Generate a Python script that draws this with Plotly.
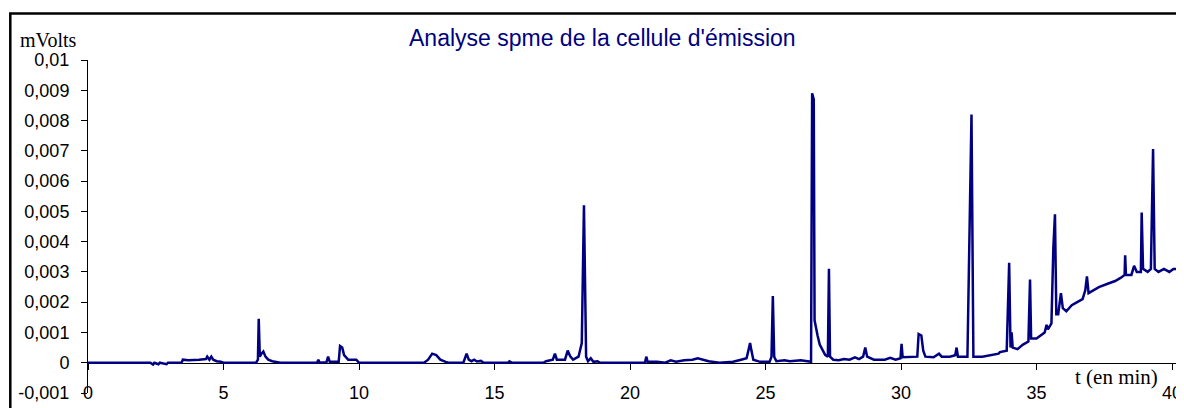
import plotly.graph_objects as go

# ---- data ----
t_min = [0, 2.3, 2.4, 2.45, 2.6, 2.65, 2.9, 2.95, 3.45, 3.5, 3.7, 3.9, 4.1, 4.35, 4.4, 4.48, 4.55, 4.62, 4.75, 4.9, 5.0,
         6.2, 6.27, 6.3, 6.34, 6.4, 6.47, 6.55, 6.65, 6.8, 7.0, 7.1,
         8.45, 8.5, 8.55, 8.8, 8.86, 8.92, 9.25, 9.3, 9.38, 9.45, 9.6, 9.9, 10.0,
         12.4, 12.55, 12.7, 12.85, 13.0, 13.2, 13.3, 13.85, 13.92, 13.97, 14.05, 14.15, 14.25, 14.35, 14.5, 14.6,
         15.5, 15.55, 15.65, 16.8, 16.9, 17.15, 17.23, 17.3, 17.6, 17.7, 17.8, 17.9, 18.1, 18.22, 18.3, 18.38,
         18.45, 18.55, 18.65, 18.8, 18.9, 20.55, 20.6, 20.65, 21.0, 21.3, 21.5, 21.7, 22.0, 22.3, 22.5, 22.7,
         22.9, 23.3, 23.8, 24.1, 24.3, 24.38, 24.43, 24.48, 24.55, 24.8, 25.15, 25.22, 25.27, 25.32, 25.4,
         25.7, 25.9, 26.3, 26.6, 26.68, 26.72, 26.78, 26.81, 26.85, 26.92, 27.0, 27.1, 27.2, 27.3, 27.34,
         27.38, 27.5, 27.7, 27.8, 27.9, 28.1, 28.3, 28.45, 28.6, 28.68, 28.75, 29.0, 29.4, 29.6, 29.8, 29.98,
         30.02, 30.06, 30.3, 30.6, 30.65, 30.75, 30.82, 30.9, 31.2, 31.4, 31.5, 31.8, 32.0, 32.05, 32.1,
         32.45, 32.6, 32.67, 33.0, 33.4, 33.6, 33.65, 33.9, 33.99, 34.04, 34.08, 34.12, 34.3, 34.5, 34.7,
         34.76, 34.8, 35.0, 35.3, 35.37, 35.42, 35.55, 35.62, 35.68, 35.73, 35.8, 35.9, 35.97, 36.1, 36.3,
         36.5, 36.7, 36.8, 36.86, 36.92, 37.1, 37.3, 37.6, 37.9, 38.1, 38.25, 38.27, 38.3, 38.5, 38.6, 38.7,
         38.85, 38.88, 38.93, 39.1, 39.22, 39.3, 39.36, 39.5, 39.7, 39.9, 40.05, 40.17]
mvolts = [0, 0, -0.00006, 0, -0.00005, 0, -0.00005, 0, 0, 0.0001, 0.00008, 0.0001, 0.0001, 0.00012, 0.0002, 0.0001,
          0.0002, 0.0001, 0.00005, 0.00003, 0,
          0, 0.0001, 0.00145, 0.0002, 0.0003, 0.00037, 0.0002, 0.0001, 0.00005, 0.00003, 0,
          0, 0.0001, 0, 0.00002, 0.0002, 0.00003, 0.00003, 0.00055, 0.0005, 0.00025, 0.0001, 0.0001, 0,
          0, 0.0001, 0.0003, 0.00025, 0.0001, 0.00003, 0, 0, 0.0002, 0.0003, 0.0001, 0.00005, 0.0001, 0.00004,
          0.00006, 0,
          0, 0.00005, 0, 0, 0.00005, 0.0001, 0.0003, 0.0001, 0.0001, 0.0004, 0.0002, 0.0001, 0.0002, 0.00065,
          0.0052, 0.0002,
          0.00005, 0.00015, 0.00003, 0.00005, 0, 0, 0.0002, 0.00003, 0.00003, 0, 0.00008, 0.00003, 0.00008,
          0.0001, 0.00015, 0.0001,
          0.00005, 0, 0.00003, 0.0001, 0.00015, 0.00045, 0.00065, 0.0004, 0.0001, 0.00003, 0.00003, 0.0002,
          0.0022, 0.0002, 0.00005,
          0.00008, 0.00005, 0.00008, 0.00003, 0.00003, 0.0089, 0.0087, 0.0014, 0.0012, 0.0009, 0.0006, 0.0004,
          0.00026, 0.0002, 0.0031,
          0.0002, 0.0001, 0.00008, 0.0001, 0.00012, 0.0001, 0.00018, 0.00012, 0.0002, 0.0005, 0.0002, 0.0001,
          0.0001, 0.00016, 0.0001, 0.00015,
          0.00062, 0.00018, 0.00018, 0.0002, 0.00095, 0.0009, 0.0004, 0.0002, 0.00018, 0.0003, 0.0002, 0.0002,
          0.00025, 0.0005, 0.0002,
          0.0002, 0.0082, 0.0002, 0.0002, 0.00025, 0.0003, 0.00035, 0.0004, 0.0033, 0.0005, 0.001, 0.0005,
          0.00045, 0.0006, 0.0007,
          0.00275, 0.0008, 0.0008, 0.001, 0.00125, 0.0011, 0.0013, 0.0038, 0.0049, 0.0016, 0.0016, 0.0023,
          0.0018, 0.0017, 0.0019,
          0.002, 0.0021, 0.0024, 0.00285, 0.0023, 0.0024, 0.0025, 0.0026, 0.0027, 0.0028, 0.0029, 0.00355,
          0.0029, 0.0029, 0.0032, 0.003,
          0.003, 0.00496, 0.0031, 0.003, 0.0031, 0.00706, 0.0031, 0.003, 0.0031, 0.003, 0.0031, 0.0031]

x_ticks = [0, 5, 10, 15, 20, 25, 30, 35, 40]
y_ticks = [-0.001, 0, 0.001, 0.002, 0.003, 0.004, 0.005, 0.006, 0.007, 0.008, 0.009, 0.01]
y_tick_text = ["-0,001", "0", "0,001", "0,002", "0,003", "0,004", "0,005", "0,006", "0,007", "0,008",
               "0,009", "0,01"]

title_text = "Analyse spme de la cellule d'émission"
y_label = "mVolts"
x_label = "t (en min)"

# ---- layout geometry (page has an 8px body margin) ----
OFF = 8
W, H = 1176, 400
ML, MR, MT, MB = 80, 6, 52, 15
PW, PH = W - ML - MR, H - MT - MB
Y0, Y1 = -0.001, 0.01
X0, X1 = 0, 40.22


def px_x(page_px):
    return (page_px - OFF - ML) / PW


def px_y(page_py):
    return (H - MB - (page_py - OFF)) / PH


NAVY = "#000080"

fig = go.Figure()
fig.add_trace(go.Scatter(x=t_min, y=mvolts, mode="lines",
                         line=dict(color=NAVY, width=2.5), hoverinfo="skip",
                         showlegend=False))

fig.update_layout(
    width=W, height=H,
    margin=dict(l=ML, r=MR, t=MT, b=MB, pad=0, autoexpand=False),
    paper_bgcolor="white", plot_bgcolor="white",
    font=dict(family="Liberation Sans, Arial, sans-serif", size=18, color="black"),
    xaxis=dict(range=[X0, X1], tickvals=x_ticks, ticktext=[str(v) for v in x_ticks],
               showgrid=False, zeroline=False, showline=True, linecolor="black", linewidth=1,
               ticks="outside", ticklen=6, tickcolor="black", tickwidth=1,
               anchor="free", position=(0 - Y0) / (Y1 - Y0), automargin=False,
               ticklabelstandoff=8, layer="below traces", ticklabeloverflow="allow",
               tickfont=dict(size=18)),
    yaxis=dict(range=[Y0, Y1], tickvals=y_ticks, ticktext=y_tick_text,
               showgrid=False, zeroline=False, showline=True, linecolor="black", linewidth=1,
               ticks="outside", ticklen=6, tickcolor="black", tickwidth=1, automargin=False,
               ticklabelstandoff=8, layer="below traces",
               tickfont=dict(size=18)),
    shapes=[dict(type="rect", xref="paper", yref="paper",
                 x0=px_x(10.3), x1=px_x(1200), y0=px_y(430), y1=px_y(13.5),
                 line=dict(color="black", width=2.5), fillcolor="rgba(0,0,0,0)", layer="below")],
    annotations=[
        dict(text=title_text, xref="paper", yref="paper", x=px_x(602), y=px_y(38),
             xanchor="center", yanchor="middle", showarrow=False,
             font=dict(family="Liberation Sans, Arial, sans-serif", size=23, color=NAVY)),
        dict(text=y_label, xref="paper", yref="paper", x=px_x(18), y=px_y(39.5),
             xanchor="left", yanchor="middle", showarrow=False,
             font=dict(family="Liberation Serif, Times New Roman, serif", size=20, color="black")),
        dict(text=x_label, xref="paper", yref="paper", x=px_x(1116), y=px_y(377),
             xanchor="center", yanchor="middle", showarrow=False,
             font=dict(family="Liberation Serif, Times New Roman, serif", size=21, color="black")),
    ],
)

fig.write_html("out.html")
